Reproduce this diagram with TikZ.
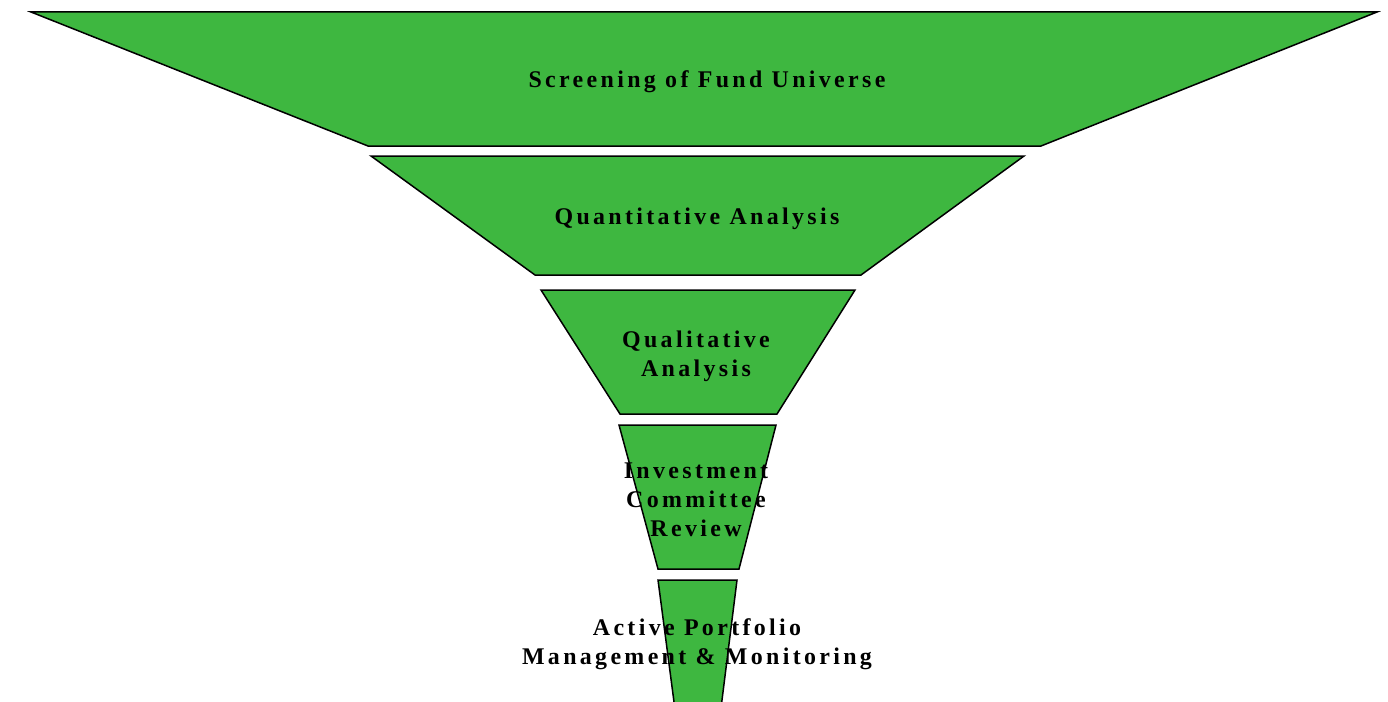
\documentclass[tikz,border=0pt]{standalone}
\usepackage{fontspec}
\newfontfamily\stagefont{Liberation Serif}[LetterSpace=14]
\usetikzlibrary{positioning}
\definecolor{funnelgreen}{RGB}{62,183,64}
\tikzset{
  % Funnel stages
  stage/.style      = { draw=black, line width=1.5bp, fill=funnelgreen },
  stagelabel/.style = { font=\fontsize{24}{29}\selectfont\stagefont\bfseries,
                        align=center, inner sep=0 }
}

\begin{document}
\begin{tikzpicture}[x=1bp, y=-1bp]

  \useasboundingbox (0,0) rectangle (1388,701);
  \clip (0,0) rectangle (1388,701);

  % --- Trapezoids, widest at the top --------------------------------
  \draw[stage] (31,12)  -- (1377,12) -- (1041,146) -- (368,146) -- cycle;
  \draw[stage] (371,156) -- (1024,156) -- (861,275) -- (535,275) -- cycle;
  \draw[stage] (541,290) -- (855,290) -- (777,414) -- (620,414) -- cycle;
  \draw[stage] (619,425) -- (776,425) -- (739,569) -- (658,569) -- cycle;
  \draw[stage] (658,580) -- (737,580) -- (717,740) -- (679,740) -- cycle;

  % --- Stage labels -------------------------------------------------
  \node[stagelabel] (screen) at (707,82)    {Screening of Fund Universe};
  \node[stagelabel] (quant)  at (697,219)   {Quantitative Analysis};
  \node[stagelabel] (qual)   at (696,356)   {Qualitative\\Analysis};
  \node[stagelabel] (icr)    at (696,500)   {Investment\\Committee\\Review};
  \node[stagelabel] (apm)    at (697,644)   {Active Portfolio\\Management \& Monitoring};

\end{tikzpicture}
\end{document}
